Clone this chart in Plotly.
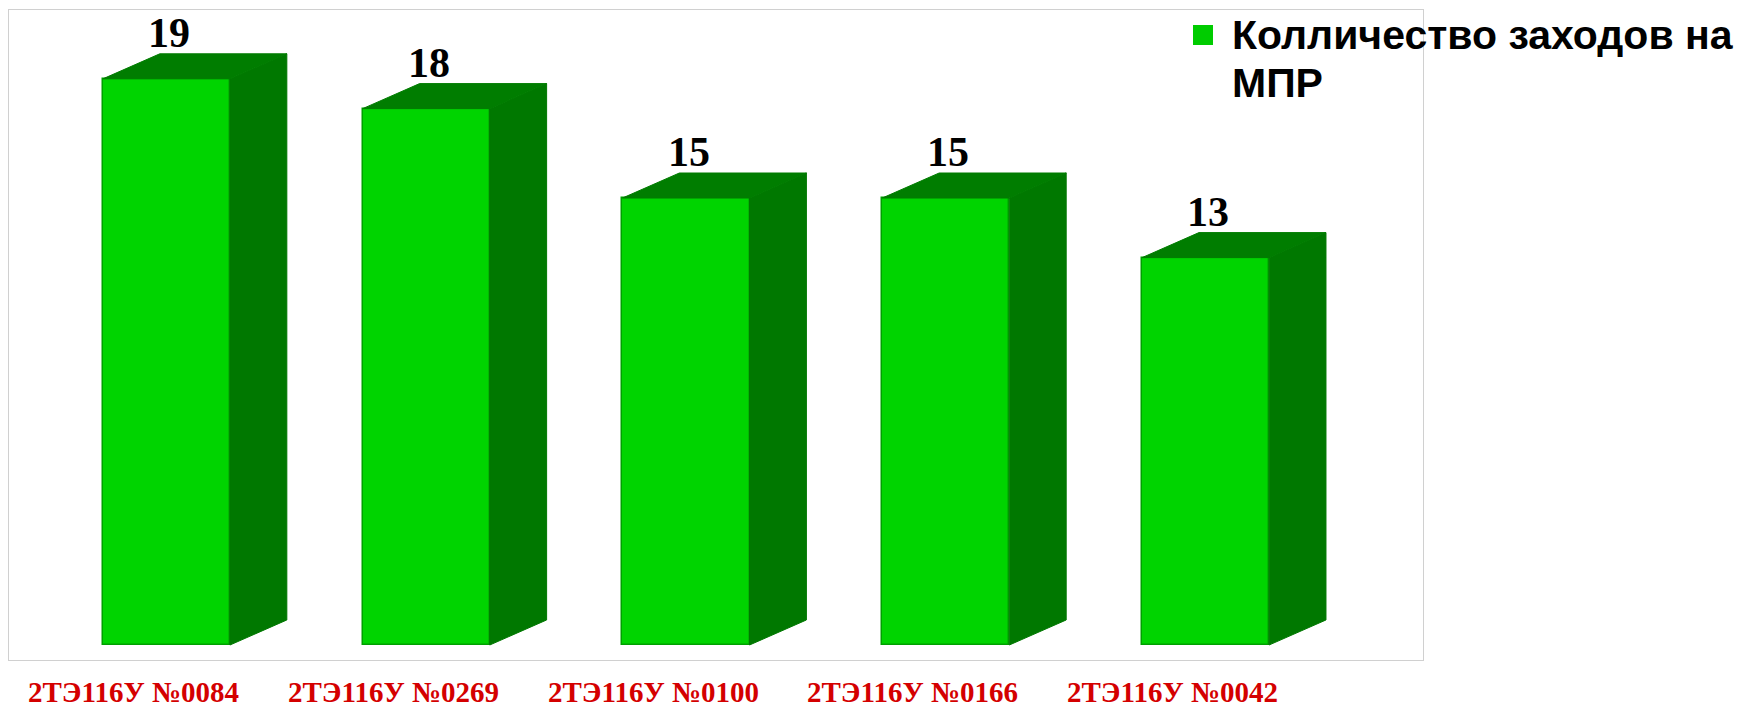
import plotly.graph_objects as go

# ---- data ----
categories = ["2ТЭ116У №0084", "2ТЭ116У №0269", "2ТЭ116У №0100", "2ТЭ116У №0166", "2ТЭ116У №0042"]
values = [19, 18, 15, 15, 13]
series_name_lines = ["Колличество заходов на", "МПР"]

# ---- style ----
FRONT = "#00d400"
SIDE = "#007800"
TOP = "#007d00"
BAR_W = 0.489
DX = 0.219   # depth offset (x units)
DY = 0.84    # depth offset (y units)

idx = list(range(len(categories)))

fig = go.Figure()

# side faces and top faces built from the values
side_x, side_y, top_x, top_y = [], [], [], []
for i, v in zip(idx, values):
    xl, xr = i - BAR_W / 2, i + BAR_W / 2
    side_x += [xr, xr + DX, xr + DX, xr, xr, None]
    side_y += [0, DY, v + DY, v, 0, None]
    top_x += [xl, xl + DX, xr + DX, xr, xl, None]
    top_y += [v, v + DY, v + DY, v, v, None]

fig.add_trace(go.Scatter(x=side_x, y=side_y, mode="lines", fill="toself",
                         fillcolor=SIDE, line=dict(color=SIDE, width=1),
                         hoverinfo="skip", showlegend=False))
fig.add_trace(go.Scatter(x=top_x, y=top_y, mode="lines", fill="toself",
                         fillcolor=TOP, line=dict(color=TOP, width=1),
                         hoverinfo="skip", showlegend=False))
fig.add_trace(go.Bar(x=idx, y=values, width=BAR_W,
                     marker=dict(color=FRONT, line=dict(color="#00a000", width=1.5)),
                     showlegend=False, hovertext=categories))

# ---- layout geometry (page body has an 8px margin) ----
OFF = 8
W, H = 1750, 711
ml, mt = 1, 2
pw, ph = 1414, 650
mr = W - ml - pw
mb = H - mt - ph


def px(xs):
    return (xs - OFF - ml) / pw


def py(ys):
    return (H - mb - (ys - OFF)) / ph


annotations = []
# value labels above each bar
for i, v in zip(idx, values):
    annotations.append(dict(x=i + 0.01, y=v + DY, xref="x", yref="y", text=str(v),
                            showarrow=False, yanchor="bottom", yshift=-4,
                            font=dict(family="Liberation Serif", size=42, color="black", weight="bold")))
# category labels below the frame
for i, c in zip(idx, categories):
    annotations.append(dict(x=i - 0.127, y=0, xref="x", yref="paper", text=c,
                            showarrow=False, yanchor="middle", yshift=-32,
                            font=dict(family="Liberation Serif", size=29, color="#d40000", weight="bold")))
# legend text
for k, line in enumerate(series_name_lines):
    annotations.append(dict(x=px(1230), y=py(35 + 47.5 * k), xref="paper", yref="paper", text=line,
                            showarrow=False, xanchor="left", yanchor="middle",
                            font=dict(family="Liberation Sans", size=41, color="black", weight="bold")))

# legend swatch
fig.add_shape(type="rect", xref="paper", yref="paper",
              x0=px(1193), x1=px(1213), y0=py(45), y1=py(25),
              fillcolor="#00cc00", line=dict(width=0))

fig.update_layout(
    width=W, height=H,
    margin=dict(l=ml, r=mr, t=mt, b=mb),
    plot_bgcolor="white", paper_bgcolor="white",
    annotations=annotations,
    showlegend=False,
    bargap=0,
)
fig.update_xaxes(range=[-0.606, 4.837], showticklabels=False, showgrid=False, zeroline=False,
                 showline=True, mirror=True, linecolor="#d0d0d0", linewidth=1, ticks="")
fig.update_yaxes(range=[-0.503, 21.31], showticklabels=False, showgrid=False, zeroline=False,
                 showline=True, mirror=True, linecolor="#d0d0d0", linewidth=1, ticks="")

fig.write_html("out.html")
